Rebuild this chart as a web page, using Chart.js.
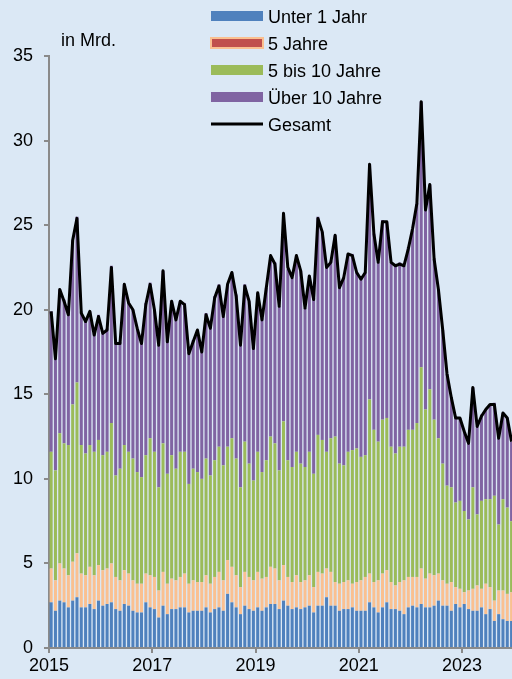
<!DOCTYPE html>
<html lang="de">
<head>
<meta charset="utf-8">
<title>Emissionen nach Laufzeit</title>
<script src="https://cdn.jsdelivr.net/npm/chart.js@4.4.1/dist/chart.umd.min.js"></script>
<style>
  html, body { margin: 0; padding: 0; background: #dbe8f5; }
  #wrap { width: 512px; height: 679px; }
</style>
</head>
<body>
<div id="wrap"><canvas id="chart" width="512" height="679"></canvas></div>
<script>
// Monatswerte Jan 2015 - Dez 2023, in Mrd.
const tickYears = ['2015', '2017', '2019', '2021', '2023'];

const unter1 = [2.7, 2.2, 2.8, 2.7, 2.4, 2.8, 3.0, 2.4, 2.4, 2.6,
  2.3, 2.8, 2.5, 2.6, 2.7, 2.3, 2.2, 2.6, 2.5, 2.2,
  2.1, 2.1, 2.7, 2.4, 2.3, 1.8, 2.5, 2.0, 2.3, 2.3,
  2.4, 2.4, 2.1, 2.2, 2.2, 2.2, 2.4, 2.1, 2.3, 2.4,
  2.2, 3.2, 2.7, 2.4, 2.0, 2.5, 2.3, 2.2, 2.4, 2.2,
  2.4, 2.6, 2.6, 2.3, 2.8, 2.5, 2.3, 2.4, 2.3, 2.4,
  2.5, 2.1, 2.5, 2.5, 3.0, 2.5, 2.5, 2.2, 2.3, 2.3,
  2.4, 2.2, 2.2, 2.2, 2.7, 2.4, 2.1, 2.4, 2.7, 2.3,
  2.3, 2.2, 2.0, 2.4, 2.5, 2.4, 2.6, 2.4, 2.4, 2.5,
  2.8, 2.5, 2.5, 2.2, 2.6, 2.4, 2.6, 2.3, 2.2, 2.2,
  2.4, 2.0, 2.3, 1.6, 2.0, 1.7, 1.6, 1.6];

const jahre5 = [2.0, 1.8, 2.2, 2.0, 1.9, 2.3, 2.6, 2.0, 1.9, 2.2,
  2.0, 2.1, 2.1, 2.1, 2.3, 1.9, 1.8, 2.0, 1.9, 1.8,
  1.7, 1.7, 1.7, 1.9, 1.9, 1.6, 2.0, 1.8, 1.8, 1.7,
  1.8, 2.0, 1.7, 1.8, 1.7, 1.7, 1.9, 1.7, 1.9, 2.1,
  1.8, 2.0, 2.1, 1.9, 1.6, 2.0, 1.9, 1.8, 2.1, 1.9,
  1.8, 2.2, 2.1, 1.7, 2.1, 1.7, 1.6, 1.9, 1.6, 1.6,
  1.8, 1.5, 2.0, 1.9, 1.7, 2.0, 1.4, 1.6, 1.6, 1.7,
  1.4, 1.7, 1.8, 2.0, 1.7, 1.5, 1.9, 2.0, 1.9, 1.6,
  1.4, 1.7, 2.0, 1.8, 1.7, 1.8, 2.1, 1.7, 2.0, 1.8,
  1.6, 1.5, 1.3, 1.7, 1.0, 1.1, 0.7, 1.1, 1.3, 1.5,
  1.1, 1.8, 1.3, 1.2, 1.4, 1.7, 1.6, 1.7];

const jahre5bis10 = [6.9, 6.5, 7.7, 7.4, 7.7, 9.3, 10.1, 7.6, 7.2, 7.2,
  7.3, 7.4, 6.8, 6.9, 8.3, 6.0, 6.6, 7.4, 7.2, 7.2,
  6.6, 6.3, 7.0, 8.1, 7.4, 6.1, 7.6, 6.5, 7.3, 6.6,
  7.4, 7.2, 5.9, 6.6, 6.5, 6.1, 6.9, 6.4, 6.9, 7.4,
  6.8, 6.7, 7.6, 6.9, 5.9, 7.7, 6.7, 5.9, 7.1, 6.3,
  6.9, 7.7, 7.4, 6.5, 8.5, 6.9, 6.8, 7.3, 7.0, 6.7,
  7.3, 6.7, 8.1, 7.9, 6.9, 7.9, 8.6, 7.1, 6.9, 7.6,
  7.9, 7.9, 7.3, 7.2, 10.3, 9.0, 8.2, 9.1, 9.0, 8.0,
  7.8, 8.0, 7.9, 8.7, 8.7, 9.1, 11.9, 10.0, 10.9, 9.2,
  8.0, 6.9, 5.8, 5.6, 5.0, 5.2, 4.8, 4.2, 6.0, 4.2,
  5.2, 5.0, 5.2, 6.2, 3.9, 5.4, 5.1, 4.2];

const ueber10 = [8.3, 6.6, 8.5, 8.5, 7.8, 9.7, 9.8, 7.9, 7.8, 7.9,
  7.0, 7.4, 7.2, 7.3, 9.3, 7.9, 7.5, 9.5, 8.8, 8.8,
  8.5, 8.0, 9.0, 9.2, 8.4, 8.4, 10.2, 7.9, 9.1, 8.9,
  8.9, 8.8, 7.8, 7.6, 8.4, 7.6, 8.6, 8.7, 9.7, 9.6,
  8.8, 9.6, 9.8, 9.7, 8.4, 9.3, 9.6, 7.9, 9.4, 9.1,
  10.2, 10.7, 10.7, 9.7, 12.3, 11.3, 11.2, 11.6, 11.4, 9.4,
  10.4, 10.4, 12.9, 12.3, 10.9, 10.5, 11.9, 10.4, 11.1, 11.7,
  11.6, 10.4, 10.6, 10.8, 13.9, 11.6, 10.6, 11.8, 11.6, 10.9,
  11.2, 10.9, 10.7, 10.8, 11.8, 13.0, 15.7, 11.8, 12.1, 9.5,
  8.8, 7.9, 6.6, 5.3, 5.1, 4.9, 4.7, 4.5, 5.9, 5.2,
  5.1, 5.3, 5.6, 5.5, 5.1, 5.1, 5.3, 4.7];

const gesamt = [19.9, 17.1, 21.2, 20.5, 19.7, 24.1, 25.4, 19.8, 19.3, 19.9,
  18.5, 19.6, 18.6, 18.8, 22.5, 18.0, 18.0, 21.5, 20.4, 20.0,
  18.9, 18.0, 20.3, 21.5, 20.0, 17.9, 22.3, 18.1, 20.5, 19.4,
  20.5, 20.3, 17.4, 18.1, 18.8, 17.5, 19.7, 18.9, 20.7, 21.4,
  19.6, 21.5, 22.2, 20.8, 17.9, 21.4, 20.5, 17.7, 21.0, 19.4,
  21.3, 23.2, 22.7, 20.2, 25.7, 22.5, 21.9, 23.2, 22.3, 20.1,
  22.0, 20.6, 25.4, 24.6, 22.5, 22.8, 24.4, 21.3, 21.9, 23.3,
  23.2, 22.2, 21.8, 22.2, 28.6, 24.5, 22.8, 25.2, 25.2, 22.8,
  22.6, 22.7, 22.6, 23.6, 24.8, 26.3, 32.3, 25.9, 27.4, 23.0,
  21.2, 18.8, 16.2, 14.8, 13.6, 13.6, 12.8, 12.1, 15.4, 13.1,
  13.7, 14.1, 14.4, 14.4, 12.4, 13.9, 13.6, 12.2];

// Monat i sitzt in der Mitte seines Intervalls auf der linearen x-Achse
const toPoints = (arr) => arr.map((v, i) => ({ x: i + 0.5, y: v }));

const axisGrey = '#8a8a8a';
const fontFamily = 'Arial, "Liberation Sans", sans-serif';

Chart.defaults.font.family = fontFamily;
Chart.defaults.font.size = 18;
Chart.defaults.color = '#000';

const barDefaults = {
  type: 'bar',
  stack: 'laufzeit',
  order: 1,
  borderWidth: 0,
  barPercentage: 1.0,
  categoryPercentage: 0.7
};

const chartData = {
  datasets: [
    { ...barDefaults, label: 'Unter 1 Jahr', data: toPoints(unter1), backgroundColor: '#4f81bd' },
    { ...barDefaults, label: '5 Jahre', data: toPoints(jahre5), backgroundColor: '#fac090',
      legendFill: '#c0504d', legendBorder: '#fac090' },
    { ...barDefaults, label: '5 bis 10 Jahre', data: toPoints(jahre5bis10), backgroundColor: '#9bbb59' },
    { ...barDefaults, label: 'Über 10 Jahre', data: toPoints(ueber10), backgroundColor: '#8064a2' },
    {
      type: 'line',
      label: 'Gesamt',
      stack: 'gesamt',
      order: 0,
      data: toPoints(gesamt),
      borderColor: '#000',
      borderWidth: 3,
      borderJoinStyle: 'round',
      pointRadius: 0,
      tension: 0,
      fill: false
    }
  ]
};

// Legende oben rechts im Diagramm + Einheit
const boxLegend = {
  id: 'boxLegend',
  afterDraw(chart) {
    const ctx = chart.ctx;
    ctx.save();
    ctx.font = '18px ' + fontFamily;
    ctx.fillStyle = '#000';
    ctx.textBaseline = 'alphabetic';
    ctx.fillText('in Mrd.', 61, 46);

    chart.data.datasets.forEach((ds, k) => {
      const yc = 16 + k * 27;
      if (ds.type === 'line') {
        ctx.strokeStyle = ds.borderColor;
        ctx.lineWidth = 3;
        ctx.beginPath();
        ctx.moveTo(211, yc);
        ctx.lineTo(263, yc);
        ctx.stroke();
      } else {
        ctx.fillStyle = ds.legendFill || ds.backgroundColor;
        ctx.fillRect(211, yc - 5, 52, 10);
        if (ds.legendBorder) {
          ctx.strokeStyle = ds.legendBorder;
          ctx.lineWidth = 2;
          ctx.strokeRect(211, yc - 5, 52, 10);
        }
      }
      ctx.fillStyle = '#000';
      ctx.fillText(ds.label, 268, yc + 6.5);
    });
    ctx.restore();
  }
};

new Chart(document.getElementById('chart'), {
  type: 'bar',
  data: chartData,
  options: {
    responsive: false,
    animation: false,
    layout: { padding: { top: 56, left: 0, right: 0, bottom: 0 } },
    plugins: {
      legend: { display: false },
      tooltip: { enabled: false }
    },
    scales: {
      x: {
        type: 'linear',
        min: 0,
        max: 107.6,
        offset: false,
        stacked: true,
        grid: { drawOnChartArea: false, drawTicks: true, tickLength: 5, color: axisGrey, lineWidth: 2, offset: false },
        border: { color: axisGrey, width: 2 },
        ticks: {
          autoSkip: false,
          maxRotation: 0,
          padding: 2,
          callback: (value, index) => tickYears[index]
        },
        afterBuildTicks: (scale) => {
          scale.ticks = tickYears.map((y, k) => ({ value: k * 24 }));
        },
        afterFit: (scale) => { scale.height = 31; }
      },
      y: {
        min: 0,
        max: 35,
        stacked: true,
        grid: { drawOnChartArea: false, drawTicks: true, tickLength: 5, color: axisGrey, lineWidth: 2 },
        border: { color: axisGrey, width: 2 },
        ticks: { stepSize: 5, padding: 11 },
        afterFit: (scale) => { scale.width = 49; }
      }
    }
  },
  plugins: [boxLegend]
});
</script>
</body>
</html>
